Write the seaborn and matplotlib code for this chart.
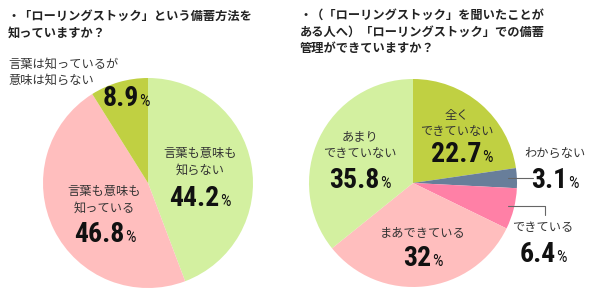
import matplotlib
matplotlib.use("Agg")
import matplotlib.pyplot as plt
from matplotlib import font_manager
from matplotlib.offsetbox import TextArea, HPacker, AnnotationBbox
import seaborn as sns

# ---- data ----
left_title = "・「ローリングストック」という備蓄方法を\n知っていますか？"
left_labels = ["言葉も意味も\n知らない", "言葉も意味も\n知っている", "言葉は知っているが\n意味は知らない"]
left_values = [44.2, 46.8, 8.9]
left_pct = ["44.2", "46.8", "8.9"]

right_title = "・（「ローリングストック」を聞いたことが\nある人へ）「ローリングストック」での備蓄\n管理ができていますか？"
right_labels = ["全く\nできていない", "わからない", "できている", "まあできている", "あまり\nできていない"]
right_values = [22.7, 3.1, 6.4, 32, 35.8]
right_pct = ["22.7", "3.1", "6.4", "32", "35.8"]

left_colors = ["#D3F0A0", "#FFBEBE", "#C0D042"]
right_colors = ["#C0D042", "#687E9A", "#FF80A6", "#FFBEBE", "#D3F0A0"]

sns.set_theme(style="white")
plt.rcParams['font.family'] = ['Noto Sans CJK JP', 'DejaVu Sans']

avail = {f.name for f in font_manager.fontManager.ttflist}
num_family = None
for cand in ["Liberation Sans Narrow", "DejaVu Sans Condensed", "Roboto Condensed", "Liberation Sans"]:
    if cand in avail:
        num_family = cand
        break

W, H = 600, 291
fig = plt.figure(figsize=(6.0, 2.91), dpi=100)
fig.patch.set_facecolor("white")

def make_ax(cx, cy, r):
    return fig.add_axes([(cx - r) / W, (H - cy - r) / H, 2 * r / W, 2 * r / H])

def fix_ax(ax):
    ax.set_xlim(-1, 1)
    ax.set_ylim(-1, 1)
    ax.set_aspect("equal")
    ax.axis("off")

def to_data(px, py, cx, cy, r):
    return ((px - cx) / r, (cy - py) / r)

def pct_text(ax, s, px, py, cx, cy, r, size=20, psize=12):
    props = dict(fontsize=size, fontweight="bold", color="#111111", family=num_family)
    pprops = dict(fontsize=psize, fontweight="normal", color="#111111", family=num_family)
    box = HPacker(children=[TextArea(s, textprops=props), TextArea("%", textprops=pprops)],
                  align="baseline", pad=0, sep=0.5)
    ab = AnnotationBbox(box, to_data(px, py, cx, cy, r), frameon=False,
                        box_alignment=(0.5, 0.5), annotation_clip=False)
    ax.add_artist(ab)

def label(ax, s, px, py, cx, cy, r, size=8.8, ha="center"):
    ax.text(*to_data(px, py, cx, cy, r), s, ha=ha, va="center", fontsize=size,
            color="#333333", linespacing=1.3, clip_on=False)

# ---- left pie ----
lcx, lcy, lr = 148, 183, 105
axl = make_ax(lcx, lcy, lr)
axl.pie(left_values, colors=left_colors, startangle=90, counterclock=False,
        wedgeprops=dict(linewidth=0), radius=1)
fix_ax(axl)
label(axl, left_labels[0], 200, 162, lcx, lcy, lr)
pct_text(axl, left_pct[0], 200, 199, lcx, lcy, lr)
label(axl, left_labels[1], 104, 200, lcx, lcy, lr)
pct_text(axl, left_pct[1], 105, 234, lcx, lcy, lr)
label(axl, left_labels[2], 8, 72, lcx, lcy, lr, ha="left")
pct_text(axl, left_pct[2], 126, 99, lcx, lcy, lr)

fig.text(8 / W, 1 - 25 / H, left_title, ha="left", va="center", fontsize=8.8,
         fontweight="bold", color="#222222", linespacing=1.35)

# ---- right pie ----
rcx, rcy, rr = 413, 183, 104
axr = make_ax(rcx, rcy, rr)
axr.pie(right_values, colors=right_colors, startangle=90, counterclock=False,
        wedgeprops=dict(linewidth=0), radius=1)
fix_ax(axr)
label(axr, right_labels[0], 457, 123, rcx, rcy, rr)
pct_text(axr, right_pct[0], 462, 154, rcx, rcy, rr)
label(axr, right_labels[1], 555, 153, rcx, rcy, rr)
pct_text(axr, right_pct[1], 555, 180, rcx, rcy, rr)
label(axr, right_labels[2], 543, 228, rcx, rcy, rr)
pct_text(axr, right_pct[2], 543, 254, rcx, rcy, rr)
label(axr, right_labels[3], 423, 233, rcx, rcy, rr)
pct_text(axr, right_pct[3], 423, 259, rcx, rcy, rr)
label(axr, right_labels[4], 360, 145, rcx, rcy, rr)
pct_text(axr, right_pct[4], 360, 181, rcx, rcy, rr)

# leader lines
x0, y0 = to_data(508, 178, rcx, rcy, rr)
x1, _ = to_data(533, 178, rcx, rcy, rr)
axr.plot([x0, x1], [y0, y0], color="#666666", lw=0.8, clip_on=False)
xa, ya = to_data(508, 206, rcx, rcy, rr)
xb, yb = to_data(545, 215, rcx, rcy, rr)
axr.plot([xa, xb, xb], [ya, ya, yb], color="#666666", lw=0.8, clip_on=False)

fig.text(300 / W, 1 - 32 / H, right_title, ha="left", va="center", fontsize=8.8,
         fontweight="bold", color="#222222", linespacing=1.35)

fig.savefig("out.png", dpi=100, facecolor="white")
